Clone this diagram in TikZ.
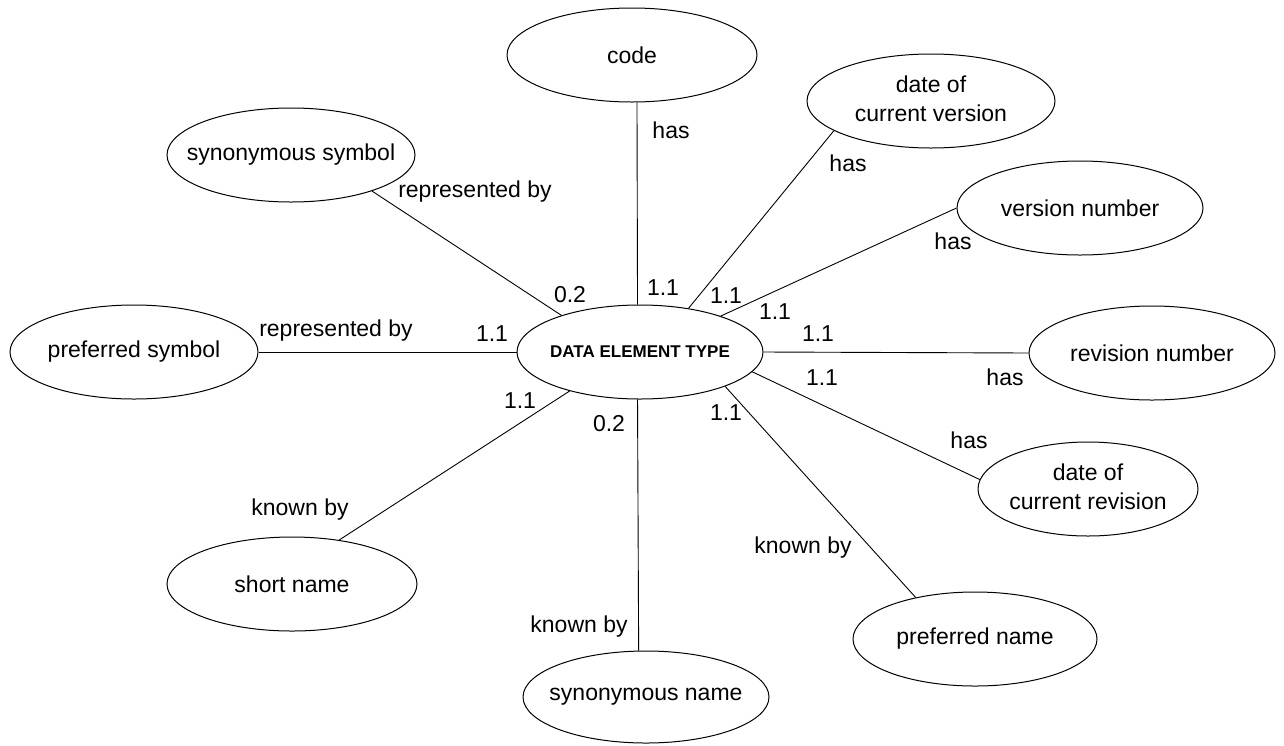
\documentclass[tikz,border=0pt]{standalone}
\usepackage{fontspec}
\setmainfont{Liberation Sans}
\usetikzlibrary{shapes.geometric}
\tikzset{
  ent/.style={ellipse, draw, line width=1pt, inner sep=0pt, minimum height=94pt, font=\fontsize{23}{29}\selectfont},
  lbl/.style={inner sep=0pt, font=\fontsize{23}{29}\selectfont},
  rel/.style={line width=0.9pt},
}
\newcommand{\ztext}[1]{\makebox[0pt]{#1}}
\newcommand{\ztwo}[2]{\makebox[0pt]{\begin{tabular}{@{}c@{}}#1\\[0pt]#2\end{tabular}}}
\begin{document}
\begin{tikzpicture}[x=1pt,y=-1pt]
\useasboundingbox (0,0) rectangle (1284,745);
% entities
\node[ent, minimum width=246pt, font=\fontsize{17}{20}\selectfont\bfseries] (det) at (640,352) {\ztext{DATA ELEMENT TYPE}};
\node[ent, minimum width=250pt] (code) at (632,55) {\ztext{code}};
\node[ent, minimum width=248pt] (dcv) at (931,101) {\ztwo{date of}{current version}};
\node[ent, minimum width=248pt] (ss) at (291,155) {\ztext{synonymous symbol}};
\node[ent, minimum width=246pt] (vn) at (1080,208) {\ztext{version number}};
\node[ent, minimum width=248pt] (ps) at (134,352) {\ztext{preferred symbol}};
\node[ent, minimum width=246pt] (rn) at (1152,353) {\ztext{revision number}};
\node[ent, minimum width=220pt] (dcr) at (1088,489) {\ztwo{date of}{current revision}};
\node[ent, minimum width=250pt] (sn) at (292,584) {\ztext{short name}};
\node[ent, minimum width=244pt] (pn) at (975,639) {\ztext{preferred name}};
\node[ent, minimum width=246pt, minimum height=92pt] (syn) at (646,697) {\ztext{synonymous name}};
% connectors
\draw[rel] (code.276.1) -- (det.93.7);
\draw[rel] (dcv.197.5) -- (det.42.5);
\draw[rel] (vn.180.9) -- (det.24.2);
\draw[rel] (rn.west) -- (det.east);
\draw[rel] (dcr.175.3) -- (det.-10.2);
\draw[rel] (pn.145) -- (det.-22.5);
\draw[rel] (syn.99.9) -- (det.267.6);
\draw[rel] (sn.43.1) -- (det.209.7);
\draw[rel] (ss.-24.5) -- (det.155.2);
\draw[rel] (ps.east) -- (det.west);
% labels
\node[lbl] (l1) at (671,130) {has};
\node[lbl] (l2) at (848,163) {has};
\node[lbl] (l3) at (953,241) {has};
\node[lbl] (l4) at (1005,377) {has};
\node[lbl] (l5) at (969,440) {has};
\node[lbl] (l6) at (803,548) {known by};
\node[lbl] (l7) at (579,627) {known by};
\node[lbl] (l8) at (300,510) {known by};
\node[lbl] (l9) at (336,331) {represented by};
\node[lbl] (l10) at (475,192) {represented by};
\node[lbl] (c1) at (570,295) {0.2};
\node[lbl] (c2) at (663,288) {1.1};
\node[lbl] (c3) at (726,296) {1.1};
\node[lbl] (c4) at (775,312) {1.1};
\node[lbl] (c5) at (818,334) {1.1};
\node[lbl] (c6) at (822,378) {1.1};
\node[lbl] (c7) at (726,413) {1.1};
\node[lbl] (c8) at (609,424) {0.2};
\node[lbl] (c9) at (520,401) {1.1};
\node[lbl] (c10) at (492,334) {1.1};
\end{tikzpicture}
\end{document}
